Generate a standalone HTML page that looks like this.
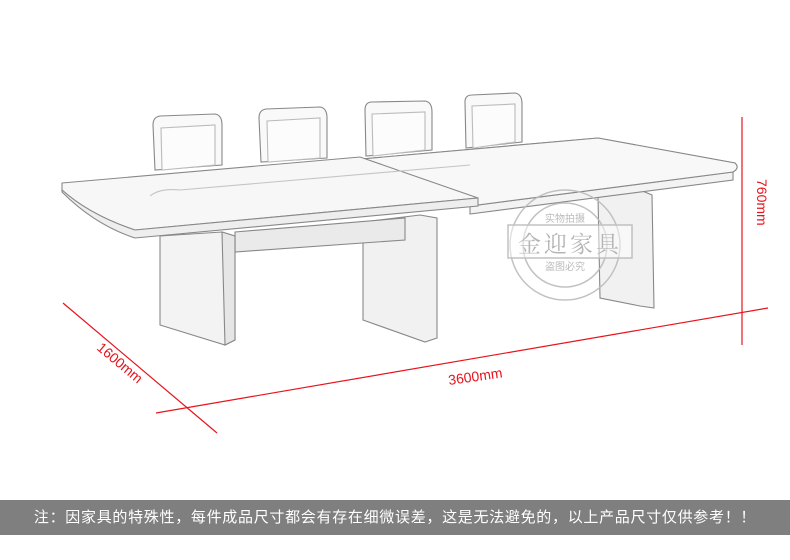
<!DOCTYPE html>
<html><head><meta charset="utf-8"><style>
html,body{margin:0;padding:0;background:#fff;}
body{width:790px;height:560px;position:relative;overflow:hidden;font-family:"Liberation Sans","Noto Sans CJK SC",sans-serif;}
.bar{position:absolute;left:0;top:500px;width:790px;height:35px;background:#7f7f7f;color:#fff;font-size:15px;letter-spacing:0.7px;line-height:35px;text-align:center;font-family:"Liberation Sans","WenQuanYi Zen Hei","Noto Sans CJK SC",sans-serif;}
</style></head><body>
<svg width="790" height="560" style="position:absolute;left:0;top:0">
<g stroke="#888" stroke-width="1.1" fill="#f9f9f9">
<path d="M155,170 L153,125 Q153,117 160,116 L215,114 Q222,115 222,125 L222,165 Z"/>
<path d="M162,170 L161,128 L215,125 L215,165 Z" fill="#fcfcfc" stroke="#bbb"/>
<path d="M261,162 L259,118 Q259,110 266,109 L320,107 Q327,108 327,118 L327,158 Z"/>
<path d="M268,162 L267,121 L320,118 L320,158 Z" fill="#fcfcfc" stroke="#bbb"/>
<path d="M366,156 L365,110 Q365,102 372,102 L425,101 Q432,102 432,112 L432,150 Z"/>
<path d="M373,156 L372,114 L425,112 L425,150 Z" fill="#fcfcfc" stroke="#bbb"/>
<path d="M466,148 L465,102 Q465,95 472,95 L515,93 Q522,94 522,104 L522,142 Z"/>
<path d="M473,148 L472,106 L515,104 L515,142 Z" fill="#fcfcfc" stroke="#bbb"/>
<path d="M598,196 L640,190 L652,195 L654,308 L640,306 L600,298 Z" fill="#f1f1f1"/>
<path d="M363,222 L420,215 L437,218 L437,338 L425,342 L363,320 Z" fill="#f1f1f1"/>
<path d="M235,232 L405,218 L405,240 L235,252 Z" fill="#eaeaea"/>
<path d="M160,236 L222,232 L235,236 L235,340 L225,345 L160,325 Z" fill="#f3f3f3"/>
<path d="M222,232 L235,236 L235,340 L225,345 Z" fill="#e6e6e6"/>
<path d="M350,160 L598,138 L735,163 Q740,168 733,172 L470,206 L470,214 L733,180 L733,172 Z" fill="#f3f3f3"/>
<path d="M350,160 L598,138 L735,163 Q740,168 733,172 L470,206 Z" fill="#f8f8f8"/>
<path d="M62,183 L360,157 L478,198 L135,230 Q90,215 62,190 Z" fill="#f7f7f7"/>
<path d="M62,190 Q90,215 135,230 L478,198 L478,206 L135,238 Q95,225 62,192 Z" fill="#eeeeee"/>
<path d="M150,196 Q160,188 180,190 L470,165" fill="none" stroke="#c4c4c4"/>
</g>
<g stroke="#bbb" fill="none" stroke-width="1.5" opacity="0.9">
<circle cx="565" cy="245" r="55"/>
<circle cx="565" cy="245" r="42"/>
<rect x="508" y="225" width="124" height="33" fill="#fff" fill-opacity="0.5"/>
</g>
<text x="570" y="252" font-size="23" fill="#b5b5b5" text-anchor="middle" font-family="'Noto Serif CJK SC',serif" letter-spacing="3">金迎家具</text>
<text x="565" y="222" font-size="10" fill="#bbb" text-anchor="middle" font-family="'Noto Sans CJK SC',sans-serif">实物拍摄</text>
<text x="565" y="270" font-size="10" fill="#bbb" text-anchor="middle" font-family="'Noto Sans CJK SC',sans-serif">盗图必究</text>
<g stroke="#e8131b" stroke-width="1.2">
<line x1="63" y1="303" x2="217" y2="433"/>
<line x1="156" y1="413" x2="768" y2="308"/>
<line x1="742" y1="117" x2="742" y2="345"/>
</g>
<g fill="#e8131b" font-size="14" font-family="'Liberation Sans',sans-serif">
<text transform="translate(96,349) rotate(40)">1600mm</text>
<text x="449" y="385" transform="rotate(-8 449 385)">3600mm</text>
<text transform="translate(757,179) rotate(90)">760mm</text>
</g>
</svg>
<div class="bar">注：因家具的特殊性，每件成品尺寸都会有存在细微误差，这是无法避免的，以上产品尺寸仅供参考！！</div>
</body></html>
